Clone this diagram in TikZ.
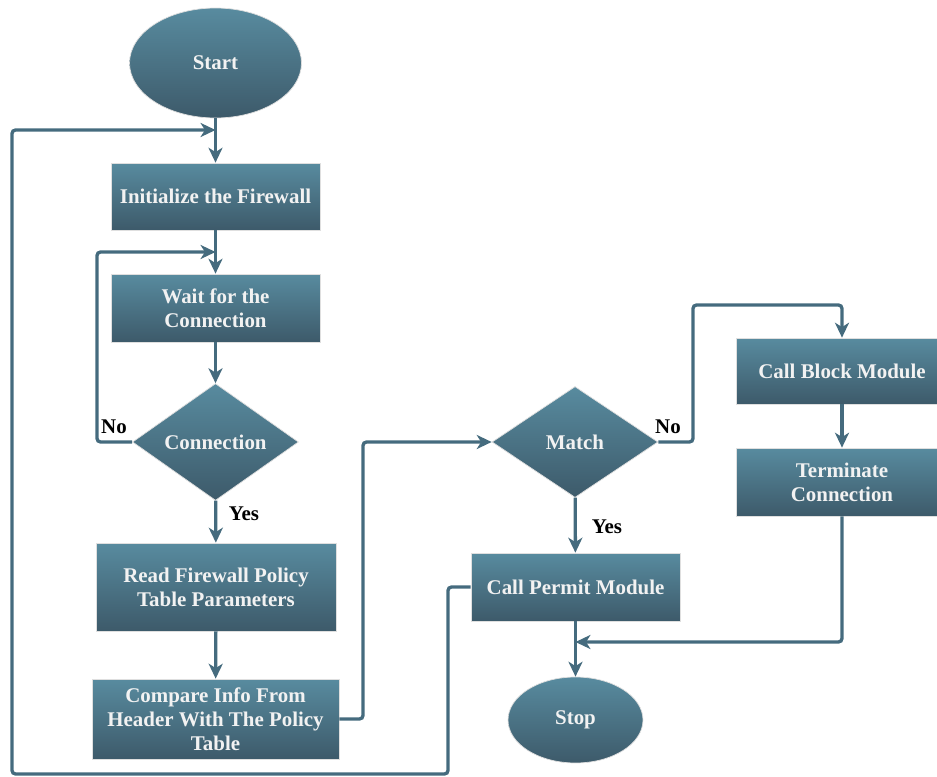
\documentclass[tikz,border=0pt]{standalone}
\usepackage{fontspec}
\setmainfont{Liberation Serif}
\usetikzlibrary{shapes.geometric,arrows.meta,positioning}
\definecolor{boxtop}{HTML}{588B9F}
\definecolor{boxbot}{HTML}{3D5A6A}
\definecolor{flowline}{HTML}{456B7E}
\definecolor{boxtext}{HTML}{F2F2F2}

\begin{document}
\begin{tikzpicture}[x=0.02cm, y=-0.02cm,
  base/.style={top color=boxtop, bottom color=boxbot, draw=gray!25, line width=0.4pt,
    text=boxtext, font=\fontsize{11.9}{13.7}\selectfont\bfseries, align=center, inner sep=0pt},
  box/.style={base, rectangle, minimum width=#1},
  box/.default=4.18cm,
  decision/.style={base, diamond, minimum width=3.32cm, minimum height=2.22cm},
  terminal/.style={base, ellipse},
  flow/.style={draw=flowline, line width=1.9pt, rounded corners=2pt,
    -{Stealth[length=8.5pt, width=8pt, inset=2.5pt]}},
  lbl/.style={font=\fontsize{11.9}{13.7}\selectfont\bfseries, text=black}]
  \clip (0,0) rectangle (937,777);

  % left column
  \node[terminal, minimum width=3.44cm, minimum height=2.2cm] (start) at (215.5,63) {Start};
  \node[box, minimum height=1.34cm] (init) at (215.5,196.5) {Initialize the Firewall};
  \node[box, minimum height=1.36cm] (wait) at (215.5,308) {Wait for the\\Connection};
  \node[decision] (conn) at (215.5,442) {Connection};
  \node[box=4.8cm, minimum height=1.76cm] (read) at (216,587) {Read Firewall Policy\\Table Parameters};
  \node[box=4.94cm, minimum height=1.6cm] (comp) at (215.5,719) {Compare Info From\\Header With The Policy\\Table};

  % middle column
  \node[decision] (match) at (575,442) {Match};
  \node[box, minimum height=1.36cm] (permit) at (575.5,587) {Call Permit Module};
  \node[terminal, minimum width=2.7cm, minimum height=1.72cm] (stopnode) at (575.5,720) {Stop};

  % right column
  \node[box=4.24cm, minimum height=1.32cm] (block) at (842,371) {Call Block Module};
  \node[box=4.24cm, minimum height=1.36cm] (term) at (842,482) {Terminate\\Connection};

  \coordinate (outer) at (215.5,130);
  \coordinate (inner) at (215.5,252);
  \coordinate (joint) at (575.5,642);

  % main flow
  \draw[flow] (start) -- (init);
  \draw[flow] (init) -- (wait);
  \draw[flow] (wait) -- (conn);
  \draw[flow] (conn) -- (read);
  \draw[flow] (read) -- (comp);
  \draw[flow] (match) -- (permit);
  \draw[flow] (permit) -- (stopnode);
  \draw[flow] (block) -- (term);

  % loops and branches
  \draw[flow] (conn.west) -- (97,442) -- (97,252) -- (inner);
  \draw[flow] (permit.west) -- (448,587) -- (448,774) -- (12,774) -- (12,130) -- (outer);
  \draw[flow] (comp.east) -- (363,719) -- (363,442) -- (match.west);
  \draw[flow] (match.east) -- (693,442) -- (693,305) -- (842,305) -- (block.north);
  \draw[flow] (term.south) -- (842,642) -- (joint);

  \node[lbl] (noconn) at (114,427) {No};
  \node[lbl] (yesconn) at (244,514) {Yes};
  \node[lbl] (nomatch) at (668,427) {No};
  \node[lbl] (yesmatch) at (607,527) {Yes};
\end{tikzpicture}
\end{document}
